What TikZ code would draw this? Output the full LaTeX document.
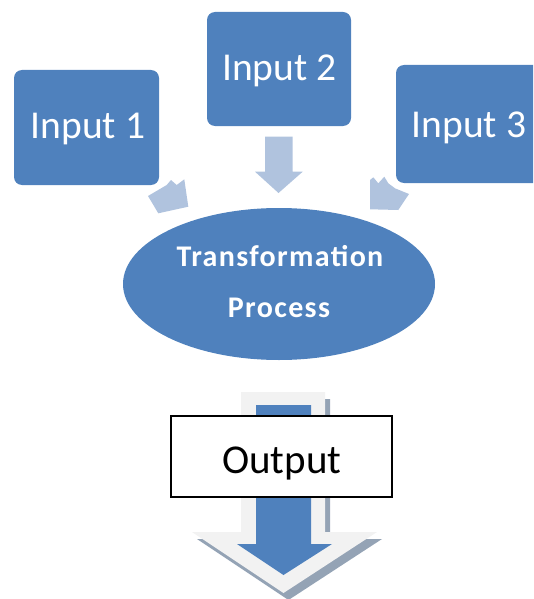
\documentclass[tikz,border=0pt]{standalone}
\usepackage{fontspec}
\setmainfont{Carlito}
\usetikzlibrary{shapes.geometric}
\definecolor{ablue}{HTML}{4F81BD}
\definecolor{alight}{HTML}{B0C3DE}
\definecolor{agray}{HTML}{F2F2F2}
\definecolor{ashadow}{HTML}{94A3B5}
\begin{document}
\begin{tikzpicture}[x=1pt,y=-1pt,
  inbox/.style={fill=ablue, rounded corners=8pt, inner sep=0pt},
  intext/.style={anchor=base, text=white, inner sep=0pt, font=\fontsize{39.5}{40}\selectfont},
  proctext/.style={anchor=base, text=white, inner sep=0pt, font=\bfseries\fontsize{30}{32}\selectfont\addfontfeatures{LetterSpace=4.5}},
  lightarrow/.style={fill=alight}]
\useasboundingbox (0,0) rectangle (533,599);
\begin{scope}
\clip (0,0) rectangle (533,599);
% input boxes
\node[inbox, minimum width=145pt, minimum height=115pt] (in1) at (86.5,127.5) {};
\node[inbox, minimum width=144pt, minimum height=114pt] (in2) at (279,69) {};
\node[inbox, minimum width=146pt, minimum height=118pt] (in3) at (469,124) {};
\node[intext] (in1t) at (88,138.5) {Input 1};
\node[intext] (in2t) at (279.5,81) {Input 2};
\node[intext] (in3t) at (469,137) {Input 3};
% light arrows
\fill[lightarrow] (265,136.7) -- (292.7,136.7) -- (292.7,171.7) -- (302.7,171.7)
  -- (278.5,193) -- (255,171.7) -- (265,171.7) -- cycle;
\fill[lightarrow] (148,196) -- (166.7,185) -- (171,180) -- (176.7,185) -- (184.3,179.3)
  -- (188.3,206.7) -- (158.3,213.3) -- cycle;
\fill[lightarrow] (370,180) -- (373.3,177.3) -- (378.3,183.3) -- (384.3,176.7) -- (388.3,183.3)
  -- (395,188.3) -- (409,194) -- (398.3,210) -- (370,209.3) -- cycle;
% transformation ellipse
\node[ellipse, fill=ablue, minimum width=312pt, minimum height=152pt, inner sep=0pt] (tp) at (279,284) {};
\node[proctext] (tpa) at (280,266.5) {Transformation};
\node[proctext] (tpb) at (279,317) {Process};
% output arrow
\fill[ashadow] (246,399) -- (330,399) -- (330,539) -- (382,539) -- (288.5,600) -- (197,539) -- (246,539) -- cycle;
\fill[agray] (241,392) -- (325,392) -- (325,532) -- (377,532) -- (283.5,593) -- (192,532) -- (241,532) -- cycle;
\fill[ablue] (256,405) -- (311,405) -- (311,544) -- (332,544) -- (283.5,575) -- (237,544) -- (256,544) -- cycle;
\node[draw=black, line width=2pt, fill=white, minimum width=221pt, minimum height=81pt, inner sep=0pt] (out) at (281.5,456.5) {};
\node[anchor=base, inner sep=0pt, font=\fontsize{41}{42}\selectfont] (outt) at (281.7,473.3) {Output};
\end{scope}
\end{tikzpicture}
\end{document}
